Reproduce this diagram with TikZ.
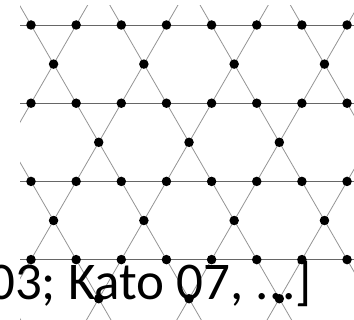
\documentclass[tikz,border=0pt]{standalone}
\usepackage{fontspec}
\setmainfont{Carlito}
\begin{document}
\begin{tikzpicture}[x=1pt,y=-1pt,
  hline/.style={draw=black!60,line width=0.8pt},
  dline/.style={draw=black!42,line width=0.8pt},
  site/.style={circle,fill=black,inner sep=0pt,minimum size=9.5pt},
  cite/.style={font=\fontsize{53}{53}\selectfont,anchor=base west,inner sep=0pt}]
\useasboundingbox (0,0) rectangle (354,320);
\def\s{45.15}
\pgfmathsetmacro{\h}{\s*sqrt(3)/2}
\begin{scope}
  \clip (20,6) rectangle (354,320);
  % horizontal lines
  \foreach \j in {0,...,3}{
    \draw[hline] (0,{25+2*\h*\j}) -- (360,{25+2*\h*\j});
  }
  % diagonal family A (down-right)
  \foreach \k in {-5,...,5}{
    \draw[dline] ({31+2*\s*\k-5*\s},{25-10*\h}) -- ({31+2*\s*\k+5*\s},{25+10*\h});
  }
  % diagonal family B (down-left)
  \foreach \k in {-5,...,6}{
    \draw[dline] ({31+\s+2*\s*\k+5*\s},{25-10*\h}) -- ({31+\s+2*\s*\k-5*\s},{25+10*\h});
  }
\end{scope}
% text
\node[cite] (cite) at (-12,300) {03; Kato 07, ...]};
% sites on horizontal rows
\foreach \j in {0,...,3}{
  \foreach \k in {0,...,7}{
    \node[site] (r-\j-\k) at ({31+\s*\k},{25+2*\h*\j}) {};
  }
}
% middle sites
\foreach \j in {0,2}{
  \foreach \k in {0,...,3}{
    \node[site] (m-\j-\k) at ({31+\s/2+2*\s*\k},{25+\h+2*\h*\j}) {};
  }
}
\foreach \j in {1,3}{
  \foreach \k in {0,...,2}{
    \node[site] (m-\j-\k) at ({31+3*\s/2+2*\s*\k},{25+\h+2*\h*\j}) {};
  }
}
\end{tikzpicture}
\end{document}
